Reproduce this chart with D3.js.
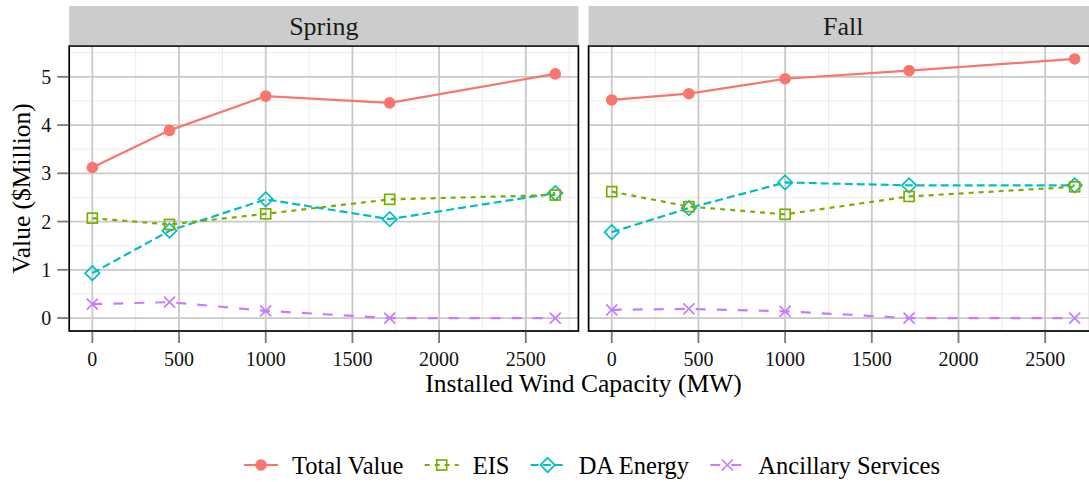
<!DOCTYPE html>
<html>
<head>
<meta charset="utf-8">
<script src="https://cdn.jsdelivr.net/npm/d3@7/dist/d3.min.js"></script>
<style>
  html, body { margin: 0; padding: 0; background: #fff; }
</style>
</head>
<body>
<svg id="chart" width="1089" height="482"></svg>
<script>
// ---- data ----
const capacity = [0, 445, 1000, 1715, 2670];
const panels = ["Spring", "Fall"];
const seriesNames = ["Total Value", "EIS", "DA Energy", "Ancillary Services"];

const springTotal = [3.12, 3.89, 4.60, 4.46, 5.06];
const springEIS   = [2.07, 1.94, 2.16, 2.46, 2.55];
const springDA    = [0.93, 1.81, 2.46, 2.05, 2.59];
const springAnc   = [0.29, 0.33, 0.15, 0.00, 0.00];

const fallTotal = [4.52, 4.65, 4.96, 5.13, 5.37];
const fallEIS   = [2.62, 2.31, 2.15, 2.52, 2.72];
const fallDA    = [1.78, 2.28, 2.81, 2.75, 2.75];
const fallAnc   = [0.17, 0.19, 0.14, 0.00, 0.00];

const xTicks = [0, 500, 1000, 1500, 2000, 2500];
const yTicks = [0, 1, 2, 3, 4, 5];
const xTitle = "Installed Wind Capacity (MW)";
const yTitle = "Value ($Million)";

// ---- styling ----
const FONT = '"Liberation Serif", "Times New Roman", "Nimbus Roman", "FreeSerif", "Noto Serif", "DejaVu Serif", serif';
const colors = ["#F8766D", "#7CAE00", "#00BFC4", "#C77CFF"];
const dashes = [null, "5,5", "8,4", "10,11"];
const shapes = ["circle", "square", "diamond", "cross"];

const panelData = {
  Spring: [springTotal, springEIS, springDA, springAnc],
  Fall: [fallTotal, fallEIS, fallDA, fallAnc]
};

const svg = d3.select("#chart").attr("font-family", FONT);

const panelTop = 46, panelBottom = 331;
const panelLefts = [69.2, 588.6];
const panelW = 509.2;
const stripTop = 6;

const allVals = [].concat(springTotal, springEIS, springDA, springAnc, fallTotal, fallEIS, fallDA, fallAnc);
const yMin = d3.min(allVals), yMax = d3.max(allVals);
const yPad = (yMax - yMin) * 0.05;
const y = d3.scaleLinear().domain([yMin - yPad, yMax + yPad]).range([panelBottom, panelTop]);
const xMin = d3.min(capacity), xMax = d3.max(capacity);
const xPad = (xMax - xMin) * 0.05;

function drawMarker(g, shape, cx, cy, color) {
  if (shape === "circle") {
    g.append("circle").attr("cx", cx).attr("cy", cy).attr("r", 5.8).attr("fill", color);
  } else if (shape === "square") {
    const s = 10;
    g.append("rect").attr("x", cx - s / 2).attr("y", cy - s / 2).attr("width", s).attr("height", s)
      .attr("fill", "none").attr("stroke", color).attr("stroke-width", 1.7);
  } else if (shape === "diamond") {
    const r = 7.2;
    g.append("path").attr("d", `M${cx},${cy - r}L${cx + r},${cy}L${cx},${cy + r}L${cx - r},${cy}Z`)
      .attr("fill", "none").attr("stroke", color).attr("stroke-width", 1.7);
  } else {
    const r = 5.5;
    g.append("path").attr("d", `M${cx - r},${cy - r}L${cx + r},${cy + r}M${cx - r},${cy + r}L${cx + r},${cy - r}`)
      .attr("fill", "none").attr("stroke", color).attr("stroke-width", 1.7);
  }
}

function txt(g) {
  return g.append("text").attr("font-family", FONT);
}

panels.forEach((name, pi) => {
  const left = panelLefts[pi];
  const x = d3.scaleLinear().domain([xMin - xPad, xMax + xPad]).range([left, left + panelW]);
  const g = svg.append("g");

  const clipId = "clip" + pi;
  svg.append("defs").append("clipPath").attr("id", clipId)
    .append("rect").attr("x", left).attr("y", panelTop).attr("width", panelW).attr("height", panelBottom - panelTop);

  g.append("rect").attr("x", left).attr("y", panelTop).attr("width", panelW).attr("height", panelBottom - panelTop).attr("fill", "#fff");

  const grid = g.append("g").attr("clip-path", `url(#${clipId})`);
  const xMinor = d3.range(250, 3000, 500);
  const yMinor = d3.range(0.5, 6, 1);
  xMinor.forEach(v => grid.append("line").attr("x1", x(v)).attr("x2", x(v)).attr("y1", panelTop).attr("y2", panelBottom)
    .attr("stroke", "#ececec").attr("stroke-width", 1));
  yMinor.forEach(v => grid.append("line").attr("x1", left).attr("x2", left + panelW).attr("y1", y(v)).attr("y2", y(v))
    .attr("stroke", "#ececec").attr("stroke-width", 1));
  xTicks.forEach(v => grid.append("line").attr("x1", x(v)).attr("x2", x(v)).attr("y1", panelTop).attr("y2", panelBottom)
    .attr("stroke", "#c9c9c9").attr("stroke-width", 1.8));
  yTicks.forEach(v => grid.append("line").attr("x1", left).attr("x2", left + panelW).attr("y1", y(v)).attr("y2", y(v))
    .attr("stroke", "#c9c9c9").attr("stroke-width", 1.8));

  const marks = g.append("g").attr("clip-path", `url(#${clipId})`);
  const series = panelData[name];
  [3, 2, 1, 0].forEach(si => {
    const vals = series[si];
    const line = d3.line().x((d, i) => x(capacity[i])).y(d => y(d));
    marks.append("path").datum(vals).attr("d", line)
      .attr("fill", "none").attr("stroke", colors[si]).attr("stroke-width", 2.2)
      .attr("stroke-dasharray", dashes[si]);
    vals.forEach((v, i) => drawMarker(marks, shapes[si], x(capacity[i]), y(v), colors[si]));
  });

  g.append("rect").attr("x", left).attr("y", panelTop).attr("width", panelW).attr("height", panelBottom - panelTop)
    .attr("fill", "none").attr("stroke", "#000").attr("stroke-width", 1.7);

  g.append("rect").attr("x", left).attr("y", stripTop).attr("width", panelW).attr("height", panelTop - stripTop - 0.8)
    .attr("fill", "#cccccc");
  txt(g).attr("x", left + panelW / 2).attr("y", 35).attr("text-anchor", "middle")
    .attr("font-size", 26).attr("fill", "#1a1a1a").text(name);

  xTicks.forEach(v => {
    g.append("line").attr("x1", x(v)).attr("x2", x(v)).attr("y1", panelBottom + 0.8).attr("y2", panelBottom + 12)
      .attr("stroke", "#7a7a7a").attr("stroke-width", 1.8);
    txt(g).attr("x", x(v)).attr("y", 366).attr("text-anchor", "middle")
      .attr("font-size", 20).attr("fill", "#111").text(v);
  });

  if (pi === 0) {
    yTicks.forEach(v => {
      g.append("line").attr("x1", left - 12).attr("x2", left - 0.8).attr("y1", y(v)).attr("y2", y(v))
        .attr("stroke", "#7a7a7a").attr("stroke-width", 1.8);
      txt(g).attr("x", left - 18).attr("y", y(v)).attr("dy", "0.35em").attr("text-anchor", "end")
        .attr("font-size", 20).attr("fill", "#111").text(v);
    });
  }
});

txt(svg).attr("x", (panelLefts[0] + panelLefts[1] + panelW) / 2).attr("y", 392)
  .attr("text-anchor", "middle").attr("font-size", 25.5).attr("fill", "#000").text(xTitle);
txt(svg).attr("transform", `translate(30, ${(panelTop + panelBottom) / 2}) rotate(-90)`)
  .attr("text-anchor", "middle").attr("font-size", 25.5).attr("fill", "#000").text(yTitle);

// legend: items laid out by measured text widths, spread across the reference span
const legend = svg.append("g");
const ly = 465;
const legStart = 244, legEnd = 940, keyHalf = 17, keyToText = 31;
const tmp = seriesNames.map(s => {
  const t = txt(legend).attr("font-size", 24.5).text(s);
  const w = t.node().getComputedTextLength();
  t.remove();
  return w;
});
const natural = d3.sum(tmp) + seriesNames.length * (keyHalf + keyToText);
const gap = Math.max(20, (legEnd - legStart - natural) / (seriesNames.length - 1));
let cx = legStart + keyHalf;
seriesNames.forEach((s, i) => {
  legend.append("line").attr("x1", cx - keyHalf).attr("x2", cx + keyHalf).attr("y1", ly).attr("y2", ly)
    .attr("stroke", colors[i]).attr("stroke-width", 2.2).attr("stroke-dasharray", dashes[i]);
  drawMarker(legend, shapes[i], cx, ly, colors[i]);
  txt(legend).attr("x", cx + keyToText).attr("y", ly).attr("dy", "0.35em")
    .attr("font-size", 24.5).attr("fill", "#000").text(s);
  cx = cx + keyToText + tmp[i] + gap + keyHalf;
});
</script>
</body>
</html>
